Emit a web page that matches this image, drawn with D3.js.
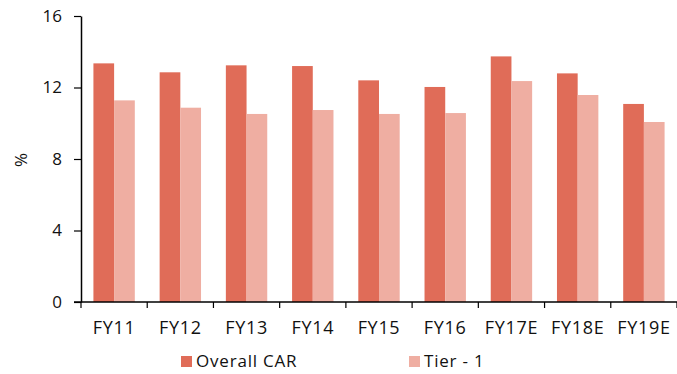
<!DOCTYPE html>
<html>
<head>
<meta charset="utf-8">
<script src="https://cdn.jsdelivr.net/npm/d3@7/dist/d3.min.js"></script>
<style>
  html, body { margin: 0; padding: 0; background: #fff; }
  svg { display: block; font-family: "Open Sans", "Noto Sans", sans-serif; }
</style>
</head>
<body>
<svg id="chart" width="677" height="374"></svg>
<script>
// Capital adequacy ratios by fiscal year
const categories = ["FY11", "FY12", "FY13", "FY14", "FY15", "FY16", "FY17E", "FY18E", "FY19E"];
const overallCAR = [13.35, 12.85, 13.24, 13.2, 12.4, 12.03, 13.74, 12.79, 11.08];
const tier1 = [11.28, 10.87, 10.52, 10.74, 10.52, 10.57, 12.36, 11.58, 10.07];
const yTicks = [0, 4, 8, 12, 16];
const seriesNames = ["Overall CAR", "Tier - 1"];
const colors = ["#E06C58", "#EFAEA2"];

const svg = d3.select("#chart");
const margin = { left: 81, right: 0, top: 16, bottom: 72 };
const width = 677, height = 374;

const x = d3.scaleBand().domain(categories).range([margin.left, width]).padding(0);
const y = d3.scaleLinear().domain([0, 16]).range([height - margin.bottom, margin.top]);
const inner = d3.scaleBand().domain([0, 1]).range([0, x.bandwidth()]).paddingOuter(0.6).paddingInner(0);

// bars
const series = [overallCAR, tier1];
series.forEach((vals, si) => {
  svg.append("g").selectAll("rect")
    .data(categories)
    .join("rect")
    .attr("x", (c) => x(c) + inner(si))
    .attr("width", inner.bandwidth())
    .attr("y", (c, i) => y(vals[i]))
    .attr("height", (c, i) => y(0) - y(vals[i]))
    .attr("fill", colors[si]);
});

// y axis
const yAxis = svg.append("g")
  .attr("transform", `translate(${margin.left},0)`)
  .call(d3.axisLeft(y).tickValues(yTicks).tickSize(7).tickPadding(12).tickSizeOuter(0));
yAxis.select(".domain").attr("stroke", "#000").attr("stroke-width", 1.5);
yAxis.selectAll(".tick line").attr("stroke", "#000").attr("stroke-width", 1.2);
yAxis.selectAll(".tick text").attr("font-size", 17).attr("fill", "#111")
  .attr("font-family", "'Open Sans', sans-serif");

// x axis with boundaries between categories
const xAxis = svg.append("g").attr("transform", `translate(0,${y(0)})`);
xAxis.append("line")
  .attr("x1", margin.left - 7).attr("x2", width)
  .attr("stroke", "#000").attr("stroke-width", 1.5);
xAxis.selectAll("line.sep")
  .data(categories.concat(["end"]))
  .join("line")
  .attr("class", "sep")
  .attr("x1", (c, i) => margin.left + i * x.bandwidth())
  .attr("x2", (c, i) => margin.left + i * x.bandwidth())
  .attr("y1", 0).attr("y2", 6)
  .attr("stroke", "#000").attr("stroke-width", 1.2);
xAxis.selectAll("text")
  .data(categories)
  .join("text")
  .attr("x", (c) => x(c) + x.bandwidth() / 2)
  .attr("y", 32)
  .attr("text-anchor", "middle")
  .attr("font-size", 18)
  .attr("letter-spacing", 0.7)
  .attr("fill", "#111")
  .text((c) => c);

// y axis title
svg.append("text")
  .attr("transform", "translate(27,160) rotate(-90)")
  .attr("text-anchor", "middle")
  .attr("font-size", 17)
  .attr("fill", "#111")
  .text("%");

// legend
const legendX = [181, 409];
seriesNames.forEach((name, i) => {
  const g = svg.append("g").attr("transform", `translate(${legendX[i]},356)`);
  g.append("rect").attr("width", 11).attr("height", 11).attr("fill", colors[i]);
  g.append("text").attr("x", 15).attr("y", 11).attr("font-size", 17)
    .attr("letter-spacing", 0.8).attr("fill", "#111").text(name);
});
</script>
</body>
</html>
